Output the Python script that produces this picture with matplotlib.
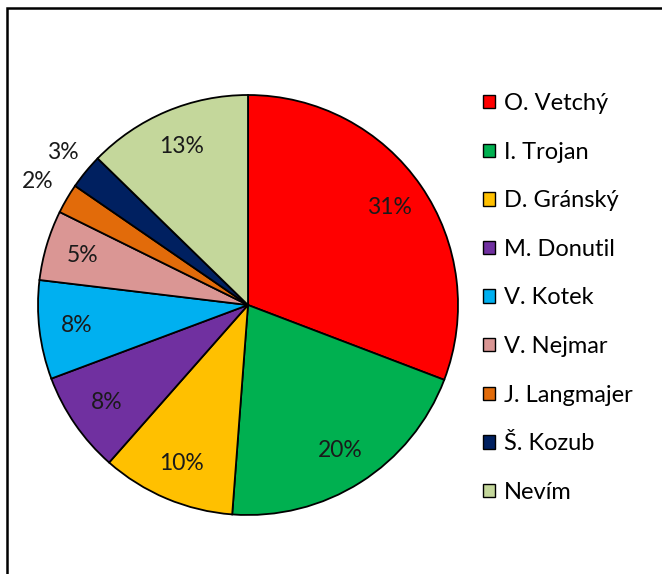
import matplotlib
matplotlib.use("Agg")
import matplotlib.pyplot as plt
from matplotlib.patches import Patch, Rectangle
import numpy as np

names = ["O. Vetchý", "I. Trojan", "D. Gránský", "M. Donutil", "V. Kotek",
         "V. Nejmar", "J. Langmajer", "Š. Kozub", "Nevím"]
values = [30.8, 20.4, 10.3, 7.8, 7.6, 5.4, 2.3, 2.7, 12.7]
colors = ["#FF0000", "#00B050", "#FFC000", "#7030A0", "#00B0F0",
          "#DA9694", "#E26B0A", "#002060", "#C4D79B"]

plt.rcParams['font.family'] = ['Lato', 'DejaVu Sans']
W, H = 662, 574
fig = plt.figure(figsize=(W/100, H/100), dpi=100)

# chart border (extends beyond canvas on right/bottom)
fig.patches.append(Rectangle((7/W, -0.1), 1.2, (574-8)/H + 0.1, transform=fig.transFigure,
                             fill=False, edgecolor='black', linewidth=1.8))

cx, cy, r = 248, 305, 210
ax = fig.add_axes([(cx-r)/W, (H-cy-r)/H, 2*r/W, 2*r/H])
wedges, texts, autotexts = ax.pie(values, colors=colors, startangle=90, counterclock=False,
                                  autopct='%.0f%%', pctdistance=0.82, radius=1,
                                  wedgeprops=dict(edgecolor='black', linewidth=1.3),
                                  textprops=dict(fontsize=16.5, color='#1a1a1a'))
ax.set_xlim(-1, 1); ax.set_ylim(-1, 1)
ax.set_aspect('equal')
ax.axis('off')

# small slices labelled outside
for i, d in ((6, 1.16), (7, 1.14)):
    w = wedges[i]
    ang = np.deg2rad((w.theta1 + w.theta2) / 2)
    autotexts[i].set_position((d*np.cos(ang), d*np.sin(ang)))
    autotexts[i].set_clip_on(False)

handles = [Patch(facecolor=c, edgecolor='black', linewidth=1.0) for c in colors]
fig.legend(handles, names, loc='upper left', bbox_to_anchor=(483/W, 1-93/H),
           frameon=False, fontsize=17, handlelength=0.5, handleheight=0.5,
           handletextpad=0.4, labelspacing=1.17, borderaxespad=0, borderpad=0)

fig.savefig("out.png", dpi=100)
